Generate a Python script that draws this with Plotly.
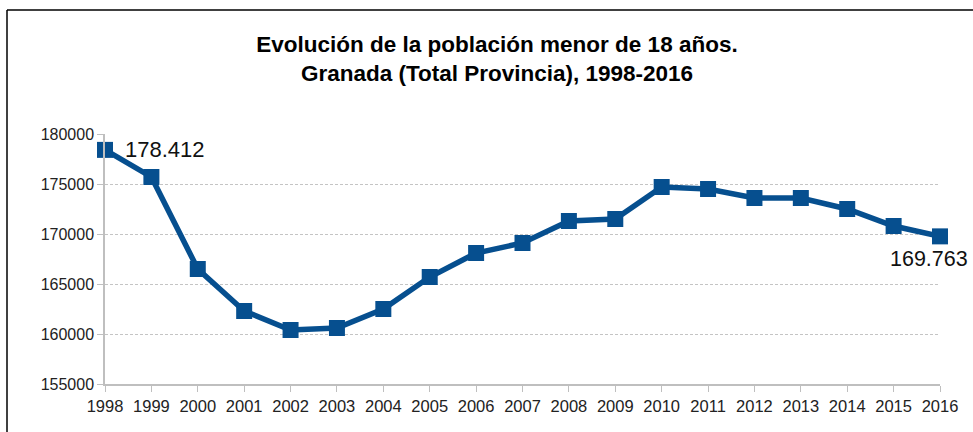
import plotly.graph_objects as go

years = list(range(1998, 2017))
poblacion = [178412, 175700, 166500, 162300, 160400, 160600, 162500, 165700,
             168100, 169100, 171300, 171500, 174700, 174500, 173600, 173600,
             172500, 170800, 169763]
y_ticks = [155000, 160000, 165000, 170000, 175000, 180000]
title_lines = ["Evolución de la población menor de 18 años.",
               "Granada (Total Provincia), 1998-2016"]

def fmt(v):
    return f"{v:,}".replace(",", ".")

W, H = 973, 432
ml, mr, mt, mb = 105, 33, 134, 48
pw, ph = W - ml - mr, H - mt - mb
FONT = "Liberation Sans, Arial"

fig = go.Figure()
fig.add_trace(go.Scatter(
    x=years, y=poblacion, mode="lines+markers",
    line=dict(color="#064F8F", width=5.5),
    marker=dict(symbol="square", size=16, color="#064F8F"),
    cliponaxis=False, showlegend=False, hoverinfo="x+y"))

fig.add_annotation(x=years[0], y=poblacion[0], text=fmt(poblacion[0]),
                   showarrow=False, xanchor="left", yanchor="middle",
                   xshift=18, yshift=0,
                   font=dict(family=FONT, size=22, color="#111"))
fig.add_annotation(x=years[-1], y=poblacion[-1], text=fmt(poblacion[-1]),
                   showarrow=False, xanchor="right", yanchor="middle",
                   xshift=30, yshift=-23,
                   font=dict(family=FONT, size=21.5, color="#111"))

# frame (left and top border)
x_left = (7 - ml) / pw
y_top = (H - mb - 10) / ph
fig.add_shape(type="line", xref="paper", yref="paper",
              x0=x_left, x1=x_left, y0=-1, y1=y_top,
              line=dict(color="black", width=1.5))
fig.add_shape(type="line", xref="paper", yref="paper",
              x0=x_left, x1=1.2, y0=y_top, y1=y_top,
              line=dict(color="black", width=1.5))

fig.update_layout(
    width=W, height=H,
    margin=dict(l=ml, r=mr, t=mt, b=mb),
    paper_bgcolor="white", plot_bgcolor="white",
    font=dict(family=FONT, size=16, color="#222"),
    title=dict(text="<b>" + title_lines[0] + "<br>" + title_lines[1] + "</b>",
               x=497 / W, xanchor="center", y=1 - 52 / H, yanchor="middle",
               font=dict(family=FONT, size=22.5, color="black")),
    xaxis=dict(range=[years[0], years[-1]], tickmode="array", tickvals=years,
               ticktext=[str(y) for y in years], showgrid=False,
               showline=True, linecolor="#BFBFBF", linewidth=1.5,
               ticks="outside", ticklen=6, tickcolor="#BFBFBF",
               tickfont=dict(size=16.5, color="#222"), zeroline=False),
    yaxis=dict(range=[155000, 180000], tickmode="array", tickvals=y_ticks,
               ticktext=[str(v) for v in y_ticks], showgrid=True,
               gridcolor="#C4C4C4", griddash="3px,2px", gridwidth=1,
               showline=True, linecolor="#BFBFBF", linewidth=1.5,
               ticks="outside", ticklen=6, tickcolor="#BFBFBF",
               tickfont=dict(size=16, color="#222"), zeroline=False),
)

fig.write_html("out.html", config={"displayModeBar": False},
               post_script="document.body.style.margin='0px';document.body.style.overflow='hidden';")
